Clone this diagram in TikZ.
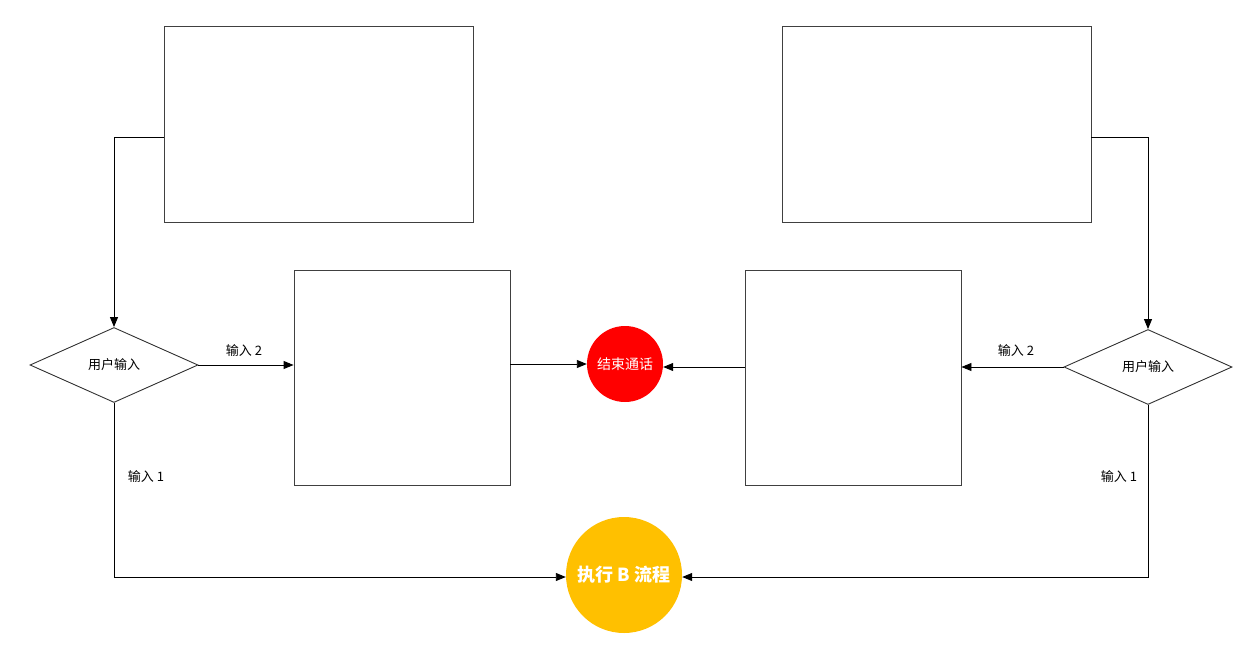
\documentclass[tikz,border=0pt]{standalone}
\usepackage{fontspec}
\newfontfamily\cjk{Noto Sans CJK SC}
\usetikzlibrary{arrows.meta,shapes.geometric}
\begin{document}
\begin{tikzpicture}[x=1pt,y=-1pt,
  dia/.style={draw=black!80,line width=0.9pt,diamond,aspect=2.24,minimum width=168pt,minimum height=75pt,inner sep=0pt,font=\cjk\fontsize{13}{15}\selectfont},
  conn/.style={draw=black,line width=0.9pt,-{Triangle[length=10pt,width=8pt]}},
  lbl/.style={font=\cjk\fontsize{13}{15}\selectfont,inner sep=1pt}]
\useasboundingbox (0,0) rectangle (1250,650);
\fill[white] (0,0) rectangle (1250,650);
% boxes
\node[draw=black!75,line width=0.9pt,minimum width=309pt,minimum height=196pt,inner sep=0pt] (tl) at (318.5,124) {};
\node[draw=black!75,line width=0.9pt,minimum width=309pt,minimum height=196pt,inner sep=0pt] (tr) at (936.5,124) {};
\node[draw=black!75,line width=0.9pt,minimum width=216pt,minimum height=215pt,inner sep=0pt] (ml) at (402,377.5) {};
\node[draw=black!75,line width=0.9pt,minimum width=216pt,minimum height=215pt,inner sep=0pt] (mr) at (853,377.5) {};
% diamonds
\node[dia] (dl) at (114,365) {用户输入};
\node[dia] (dr) at (1148,367) {用户输入};
% circles
\node[circle,fill=red,minimum size=76pt,inner sep=0pt,text=white,font=\cjk\fontsize{14}{16}\selectfont] (end) at (625,364) {结束通话};
\node[circle,fill={rgb,255:red,255;green,192;blue,0},minimum size=116pt,inner sep=0pt,text=white,font=\cjk\bfseries\fontsize{18}{20}\selectfont] (exb) at (624,575) {执行 B 流程};
% connectors
\draw[conn] (tl.west |- 0,137) -| (dl.north);
\draw[conn] (tr.east |- 0,137) -| (dr.north);
\draw[conn] (dl.east) -- (ml.west |- dl.east);
\draw[conn] (ml.east |- end.west) -- (end.west);
\draw[conn] (mr.west |- 0,367) -- (end.east |- 0,367);
\draw[conn] (dr.west) -- (mr.east |- dr.west);
\draw[conn] (dl.south) |- (exb.west |- 0,577);
\draw[conn] (dr.south) |- (exb.east |- 0,577);
% labels
\node[lbl] at (244,351) {输入 2};
\node[lbl] at (1016,351) {输入 2};
\node[lbl] at (146,477) {输入 1};
\node[lbl] at (1119,477) {输入 1};
\end{tikzpicture}
\end{document}
